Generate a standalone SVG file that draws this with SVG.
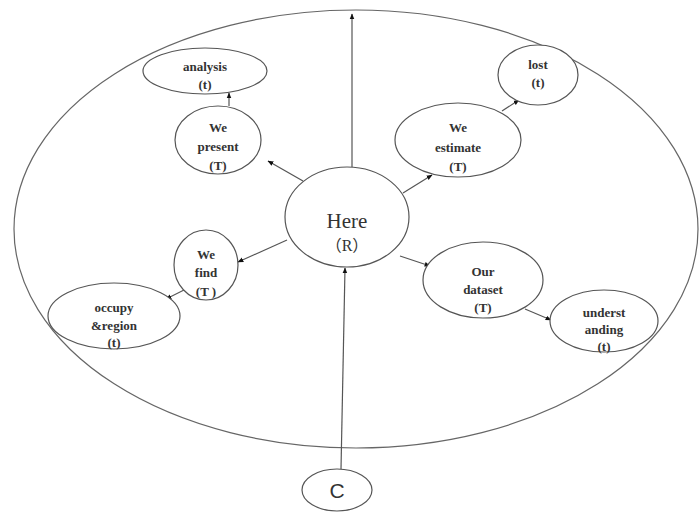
<svg xmlns="http://www.w3.org/2000/svg" width="699" height="512" viewBox="0 0 699 512">
<defs>
<marker id="ah" viewBox="0 0 10 10" refX="9" refY="5" markerWidth="6" markerHeight="6" orient="auto" markerUnits="userSpaceOnUse">
<path d="M0,1 L10,5 L0,9 z" fill="#111"/>
</marker>
</defs>
<style>
.n{fill:#fff;stroke:#555;stroke-width:1.2}
.t{font-family:"Liberation Serif","Noto Sans CJK SC",serif;font-size:13px;font-weight:bold;fill:#333;text-anchor:middle}
.c{stroke:#555;stroke-width:1.2;fill:none;marker-end:url(#ah)}
</style>
<rect width="699" height="512" fill="#fff"/>
<g id="boundary"><ellipse cx="356" cy="229" rx="342" ry="219" fill="none" stroke="#666" stroke-width="1.2"/></g>
<g id="connectors">
<line class="c" x1="352" y1="167" x2="352" y2="14"/>
<line class="c" x1="303" y1="181" x2="268" y2="161"/>
<line class="c" x1="229" y1="106" x2="229" y2="93"/>
<line class="c" x1="403" y1="193" x2="432" y2="175"/>
<line class="c" x1="502" y1="111" x2="519" y2="100"/>
<line class="c" x1="287" y1="240" x2="238" y2="262"/>
<line class="c" x1="184" y1="290" x2="166" y2="299"/>
<line class="c" x1="400" y1="256" x2="430" y2="266"/>
<line class="c" x1="525" y1="309" x2="551" y2="320"/>
<line class="c" x1="341" y1="469" x2="345" y2="268"/>
</g>
<g id="here"><ellipse class="n" cx="347" cy="217" rx="62" ry="50"/>
<text x="347" y="228" style="font-family:'Liberation Serif',serif;font-size:21px;fill:#333;text-anchor:middle">Here</text>
<text x="347" y="251" style="font-family:'Liberation Serif','Noto Sans CJK SC',serif;font-size:16px;fill:#333;text-anchor:middle">（R）</text></g>
<g id="analysis"><ellipse class="n" cx="205" cy="71" rx="62" ry="23"/>
<text class="t" x="205" y="71">analysis</text><text class="t" x="205" y="89">(t)</text></g>
<g id="present"><ellipse class="n" cx="218" cy="140" rx="43" ry="34"/>
<text class="t" x="218" y="132">We</text><text class="t" x="218" y="151">present</text><text class="t" x="218" y="170">(T)</text></g>
<g id="estimate"><ellipse class="n" cx="458" cy="140" rx="63" ry="37"/>
<text class="t" x="458" y="132">We</text><text class="t" x="458" y="152">estimate</text><text class="t" x="458" y="171">(T)</text></g>
<g id="lost"><ellipse class="n" cx="538" cy="75" rx="40" ry="30"/>
<text class="t" x="538" y="69">lost</text><text class="t" x="538" y="87">(t)</text></g>
<g id="find"><ellipse class="n" cx="206" cy="265" rx="32" ry="35"/>
<text class="t" x="206" y="259">We</text><text class="t" x="206" y="277">find</text><text class="t" x="206" y="296">(T )</text></g>
<g id="occupy"><ellipse class="n" cx="114" cy="316" rx="66" ry="33"/>
<text class="t" x="114" y="312">occupy</text><text class="t" x="114" y="330">&amp;region</text><text class="t" x="114" y="347">(t)</text></g>
<g id="dataset"><ellipse class="n" cx="483" cy="280" rx="60" ry="38"/>
<text class="t" x="483" y="276">Our</text><text class="t" x="483" y="294">dataset</text><text class="t" x="483" y="312">(T)</text></g>
<g id="understanding"><ellipse class="n" cx="604" cy="321" rx="54" ry="31"/>
<text class="t" x="604" y="317">underst</text><text class="t" x="604" y="334">anding</text><text class="t" x="604" y="351">(t)</text></g>
<g id="c"><ellipse class="n" cx="337" cy="490" rx="35" ry="21"/>
<text x="337" y="498" style="font-family:'Liberation Sans',sans-serif;font-size:21px;fill:#333;text-anchor:middle">C</text></g>
</svg>
